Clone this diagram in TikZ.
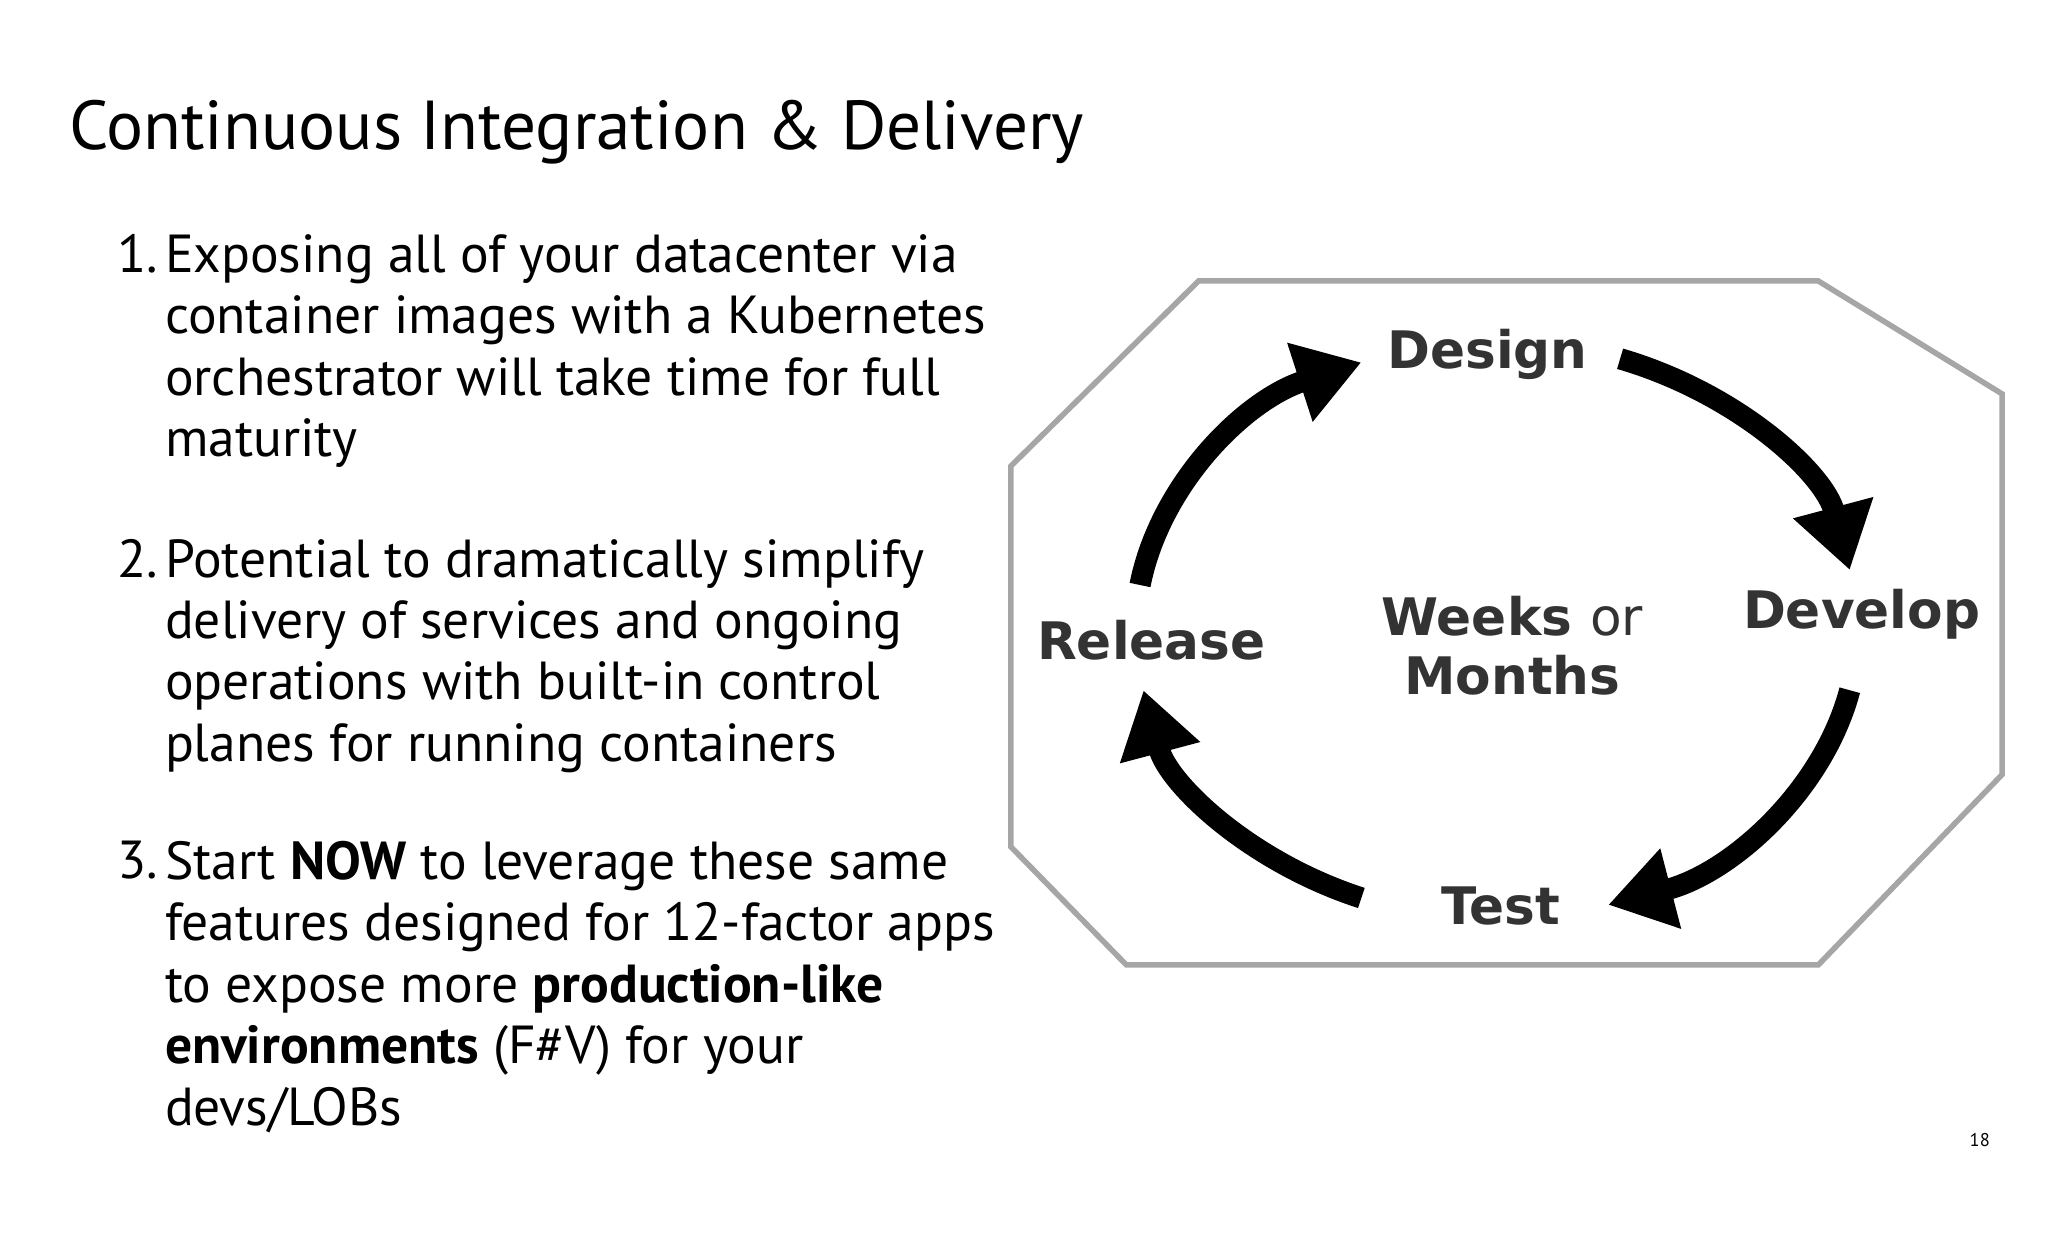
\documentclass[tikz,border=0pt]{standalone}
\usepackage{fontspec}
\setmainfont{PT Sans}
\newfontfamily\lbl{DejaVu Sans}
\usetikzlibrary{arrows.meta}
\begin{document}
\begin{tikzpicture}[x=0.01cm,y=-0.01cm,
  body/.style={anchor=north west,inner sep=0,align=left,font=\fontsize{11.6}{13.3}\selectfont},
  num/.style={anchor=north east,inner sep=0,font=\fontsize{11.6}{13.3}\selectfont},
  lab/.style={font=\lbl\bfseries\fontsize{11.2}{12.8}\selectfont,text=black!80},
  cyc/.style={line width=4.6pt,-{Triangle[width=17pt,length=14pt]}}]
\useasboundingbox (0,0) rectangle (1560,947);
\node[anchor=west,inner sep=0,font=\fontsize{15}{18}\selectfont] (title) at (52,101) {Continuous Integration \& Delivery};
\node[num] (n1) at (121,178) {1.};
\node[body] (t1) at (125,178) {Exposing all of your datacenter via\\container images with a Kubernetes\\orchestrator will take time for full\\maturity};
\node[num] (n2) at (121,410) {2.};
\node[body] (t2) at (125,410) {Potential to dramatically simplify\\delivery of services and ongoing\\operations with built-in control\\planes for running containers};
\node[num] (n3) at (121,640) {3.};
\node[body] (t3) at (125,640) {Start \textbf{NOW} to leverage these same\\features designed for 12-factor apps\\to expose more \textbf{production-like}\\\textbf{environments} (F\#V) for your\\devs/LOBs};
\draw[black!35,line width=1.2pt,fill=white] (770,355) -- (913,214) -- (1385,214) -- (1525,300) -- (1525,590) -- (1385,735) -- (858,735) -- (770,645) -- cycle;
\coordinate (c) at (1140,480);
\draw[cyc] ([shift={(-70:275 and 220)}]c) arc[start angle=-70,end angle=-12,x radius=275,y radius=220];
\draw[cyc] ([shift={(12:275 and 220)}]c) arc[start angle=12,end angle=72,x radius=275,y radius=220];
\draw[cyc] ([shift={(112:275 and 220)}]c) arc[start angle=112,end angle=168,x radius=275,y radius=220];
\draw[cyc] ([shift={(-171:275 and 220)}]c) arc[start angle=-171,end angle=-112,x radius=275,y radius=220];
\node[lab] (design) at (1133,270) {Design};
\node[lab] (develop) at (1418,468) {Develop};
\node[lab] (test) at (1143,690) {Test};
\node[lab] (release) at (877,488) {Release};
\node[lab,align=center] (wm) at (1152,492) {Weeks {\mdseries or}\\Months};
\node[font=\fontsize{4}{5}\selectfont] (pg) at (1508,868) {18};
\end{tikzpicture}
\end{document}
